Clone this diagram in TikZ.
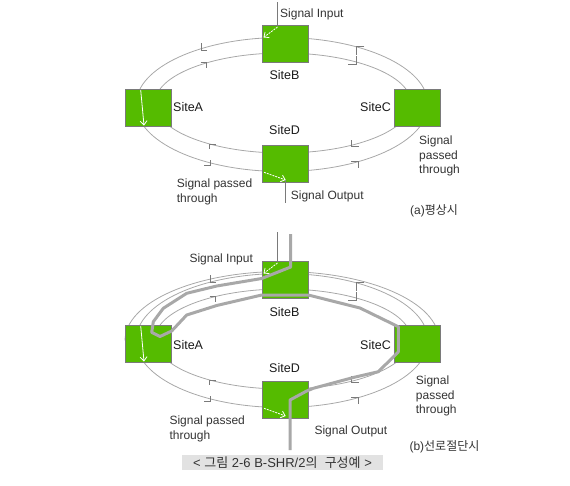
\documentclass[tikz,border=0pt]{standalone}
\usepackage{fontspec}
\setmainfont{Liberation Sans}
\newfontfamily\kr{Noto Sans CJK KR}
\usetikzlibrary{arrows.meta}
\definecolor{boxgreen}{HTML}{55BB00}
\definecolor{ringgray}{HTML}{A8A8A8}
\definecolor{txt}{HTML}{333333}
\definecolor{sitetxt}{HTML}{1A1A1A}
\definecolor{edge}{HTML}{7A7A7A}
\definecolor{capbg}{HTML}{E2E2E2}
\begin{document}
\begin{tikzpicture}[x=1pt,y=-1pt,
  site/.style={draw=edge, fill=boxgreen, line width=0.8pt, minimum width=46pt, minimum height=37pt, inner sep=0, anchor=north west},
  ring/.style={draw=ringgray, line width=0.8pt},
  mk/.style={draw=edge, line width=0.8pt},
  lbl/.style={text=txt, inner sep=0, font=\fontsize{12}{14.5}\selectfont},
  sitelbl/.style={text=sitetxt, inner sep=0, font=\fontsize{12.5}{14.5}\selectfont},
  sig/.style={draw=white, line width=0.8pt, -{Straight Barb[length=4pt,width=7pt]}},
  sigd/.style={sig, dash pattern=on 2pt off 1pt},
  lead/.style={draw=edge, line width=0.8pt},
  thick/.style={draw=ringgray, line width=3pt, line join=round}
]
\useasboundingbox (0,0) rectangle (570,485);

% ---------------- (a) ----------------
\draw[ring] (282,104.5) ellipse [x radius=146, y radius=67];
\draw[ring] (283,103) ellipse [x radius=128, y radius=50];
\draw[mk] (201,43) -- (201,50) -- (207,50);
\draw[mk] (200.7,62.3) -- (206.3,62.3) -- (206.3,68.3);
\draw[mk] (364.3,46.7) -- (356.7,46.7) -- (356.7,55);
\draw[mk] (356.7,56) -- (356.7,64) -- (348.3,64);
\draw[mk] (215.7,144) -- (209,144) -- (209,149.3);
\draw[mk] (204,165) -- (210.3,165) -- (210.3,159.5);
\draw[mk] (351.7,140) -- (351.7,146) -- (359,146);
\draw[mk] (351,161.7) -- (358.3,161.7) -- (358.3,168.3);

\node[site] (Ba) at (262,25) {};
\node[site] (Aa) at (125,89) {};
\node[site] (Ca) at (394,89) {};
\node[site] (Da) at (262,144.5) {};

\coordinate (inA) at (277.5,2);
\coordinate (outA) at (285.7,203);
\draw[lead] (inA) -- (Ba.north -| inA);
\draw[lead] (285.7,180) -- (outA);
\draw[sigd] (277.5,27) -- (263.5,37.5);
\draw[sig] (140.7,90) -- (144,125.5);
\draw[sigd] (264,172.3) -- (285.7,180);

\node[lbl, anchor=west] (tin) at (280,14.5) {Signal Input};
\node[sitelbl] (lB) at (284.5,75) {SiteB};
\node[sitelbl, anchor=west] (lA) at (173,107.5) {SiteA};
\node[sitelbl, anchor=east] (lC) at (391,107.5) {SiteC};
\node[sitelbl] (lD) at (284.5,130.5) {SiteD};
\node[lbl, anchor=west, align=left] (tpl) at (176.7,191.7) {Signal passed\\through};
\node[lbl, anchor=west] (tout) at (290.7,196.5) {Signal Output};
\node[lbl, anchor=west, align=left] (tpr) at (419,156) {Signal\\passed\\through};
\node[lbl, anchor=west] (capa) at (410,211) {(a){\kr 평상시}};

% ---------------- (b) ----------------
\draw[ring] (282,340.5) ellipse [x radius=146, y radius=67];
\draw[ring] (283,339) ellipse [x radius=128, y radius=50];
\draw[ring] (125,340.5) arc [start angle=180, end angle=360, x radius=157, y radius=69];
\draw[mk] (210,275) -- (210,282.7) -- (216,282.7);
\draw[mk] (209.7,296) -- (215.3,296) -- (215.3,302);
\draw[mk] (364.3,282.7) -- (356.7,282.7) -- (356.7,291);
\draw[mk] (356.7,292) -- (356.7,300) -- (348.3,300);
\draw[mk] (215.7,380) -- (209,380) -- (209,385.3);
\draw[mk] (204,401) -- (210.3,401) -- (210.3,395.5);
\draw[mk] (351.7,376) -- (351.7,382) -- (359,382);
\draw[mk] (351,397.7) -- (358.3,397.7) -- (358.3,404.3);

\node[site] (Bb) at (262,261) {};
\node[site] (Ab) at (125,325) {};
\node[site] (Cb) at (394,325) {};
\node[site] (Db) at (262,380.5) {};

\coordinate (inB) at (277.5,232);
\draw[lead] (inB) -- (Bb.north -| inB);
\draw[thick] (290.7,234) -- (290.7,267) -- (261.7,278.5) -- (216.7,286) -- (186.7,293.3) -- (163.3,308.3) -- (153.3,321.7) -- (151.7,332.3) -- (160,336.5) -- (171.7,331) -- (186.7,315) -- (216.7,305.5) -- (261.7,295) -- (308.3,295) -- (360,308) -- (398.3,326.7) -- (398.3,352) -- (378.3,371.7) -- (353.3,377.5) -- (313.3,388.3) -- (306.7,391) -- (290,400) -- (290,450);
\draw[sigd] (277.5,263) -- (263.5,273.5);
\draw[sig] (140.7,326) -- (144,361.5);
\draw[sigd] (264,408.3) -- (285.7,416);

\node[lbl, anchor=west] (tinb) at (189.3,259.5) {Signal Input};
\node[sitelbl] (lBb) at (284.5,312) {SiteB};
\node[sitelbl, anchor=west] (lAb) at (173,345) {SiteA};
\node[sitelbl, anchor=east] (lCb) at (391,345) {SiteC};
\node[sitelbl] (lDb) at (284.5,368.5) {SiteD};
\node[lbl, anchor=west, align=left] (tplb) at (169.3,428.7) {Signal passed\\through};
\node[lbl, anchor=west] (toutb) at (314.3,431.7) {Signal Output};
\node[lbl, anchor=west, align=left] (tprb) at (415.7,396) {Signal\\passed\\through};
\node[lbl, anchor=west] (capb) at (409.3,446.7) {(b){\kr 선로절단시}};

\node[fill=capbg, minimum width=201.6pt, minimum height=15pt, inner sep=0, text=txt, font=\fontsize{13}{14}\selectfont] (cap) at (282.5,462.5) {< {\kr 그림} 2-6 B-SHR/2{\kr 의} \ {\kr 구성예} >};
\end{tikzpicture}
\end{document}
